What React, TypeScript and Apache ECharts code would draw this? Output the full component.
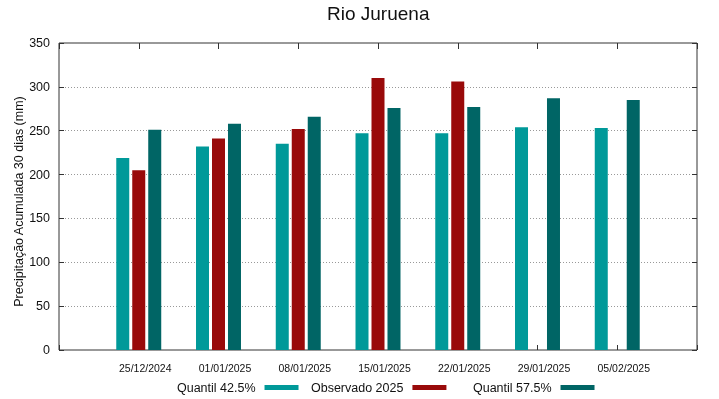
import React, { useEffect, useRef } from "react";
import * as echarts from "echarts";

const dates = ["25/12/2024", "01/01/2025", "08/01/2025", "15/01/2025", "22/01/2025", "29/01/2025", "05/02/2025"];
const quantil425 = [219, 232, 235, 247, 247, 254, 253];
const observado2025 = [205, 241, 252, 310, 306, null, null];
const quantil575 = [251, 258, 266, 276, 277, 287, 285];
const yTicks = { min: 0, max: 350, interval: 50 };

const FONT = "Liberation Sans, Arial, sans-serif";
const C1 = "#009999";
const C2 = "#990a0a";
const C3 = "#006565";

const pad = (arr: (number | null)[]) => [null, ...arr, null];

export default function App() {
  const ref = useRef<HTMLDivElement>(null);
  useEffect(() => {
    document.body.style.margin = "0";
    const chart = echarts.init(ref.current!, undefined, { renderer: "svg" });
    const cats = ["", ...dates, ""];
    const legendBase = {
      align: "right" as const,
      orient: "horizontal" as const,
      top: 381,
      padding: 0,
      itemWidth: 34,
      itemHeight: 5,
      icon: "rect",
      textStyle: { fontSize: 12.5, fontFamily: FONT, color: "#111", padding: [0, 4, 0, 0] },
    };
    chart.setOption({
      animation: false,
      textStyle: { fontFamily: FONT },
      title: {
        text: "Rio Juruena",
        left: 327,
        top: 4,
        padding: 0,
        textStyle: { fontSize: 19, fontWeight: "normal", color: "#111", fontFamily: FONT },
      },
      grid: {
        left: 59,
        right: 22,
        top: 43,
        bottom: 49,
        show: true,
        borderColor: "#333",
        borderWidth: 1,
        backgroundColor: "transparent",
        containLabel: false,
        outerBoundsMode: "none",
      },
      legend: [
        { ...legendBase, left: 177, data: ["Quantil 42.5%"] },
        { ...legendBase, left: 311, data: ["Observado 2025"] },
        { ...legendBase, left: 473, data: ["Quantil 57.5%"] },
      ],
      xAxis: [
        {
          type: "category",
          data: cats,
          boundaryGap: false,
          position: "bottom",
          axisLine: { show: false, onZero: false },
          axisTick: { show: true, inside: true, length: 5, lineStyle: { color: "#333" } },
          axisLabel: {
            fontSize: 10.5,
            color: "#111",
            fontFamily: FONT,
            margin: 12,
            padding: [0, 0, 0, 13],
            interval: 0,
          },
          splitLine: { show: false },
        },
        {
          type: "category",
          data: cats,
          boundaryGap: false,
          position: "top",
          axisLine: { show: false, onZero: false },
          axisTick: { show: true, inside: true, length: 6, lineStyle: { color: "#333" } },
          axisLabel: { show: false },
          splitLine: { show: false },
        },
      ],
      yAxis: [
        {
          type: "value",
          ...yTicks,
          position: "left",
          name: "Precipitação Acumulada 30 dias (mm)",
          nameLocation: "middle",
          nameGap: 34,
          nameMoveOverlap: false,
          nameTextStyle: { fontSize: 12.5, color: "#111", fontFamily: FONT, padding: [0, 10, 0, 0] },
          axisLine: { show: false, onZero: false },
          axisTick: { show: true, inside: true, length: 5, lineStyle: { color: "#333" } },
          axisLabel: { fontSize: 12.5, color: "#111", fontFamily: FONT, margin: 9 },
          splitLine: { show: true, lineStyle: { color: "#999", type: [1, 2], width: 1 } },
        },
        {
          type: "value",
          ...yTicks,
          position: "right",
          axisLine: { show: false, onZero: false },
          axisTick: { show: true, inside: true, length: 5, lineStyle: { color: "#333" } },
          axisLabel: { show: false },
          splitLine: { show: false },
        },
      ],
      series: [
        {
          name: "Quantil 42.5%",
          type: "bar",
          data: pad(quantil425),
          barWidth: 13,
          barGap: "23%",
          itemStyle: { color: C1 },
        },
        {
          name: "Observado 2025",
          type: "bar",
          data: pad(observado2025),
          barWidth: 13,
          barGap: "23%",
          itemStyle: { color: C2 },
        },
        {
          name: "Quantil 57.5%",
          type: "bar",
          data: pad(quantil575),
          barWidth: 13,
          barGap: "23%",
          itemStyle: { color: C3 },
        },
      ],
    });
    return () => chart.dispose();
  }, []);
  return <div ref={ref} style={{ width: 719, height: 399, position: "fixed", left: 0, top: 0 }} />;
}
